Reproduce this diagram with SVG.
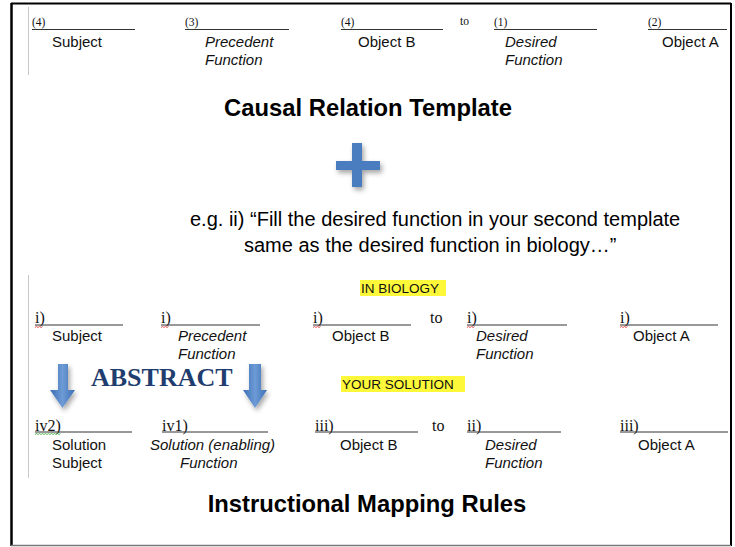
<svg xmlns="http://www.w3.org/2000/svg" width="735" height="547" viewBox="0 0 735 547">
<defs>
<style>
.s{font-family:"Liberation Sans",Arial,sans-serif;font-size:15px;fill:#111}
.i{font-style:italic}
.n{font-family:"Liberation Serif","Times New Roman",serif;fill:#111}
.n1{font-size:11.5px}
.n2{font-size:16px}
.u{stroke:#333;stroke-width:1}
.m{stroke:#c8c8c8;stroke-width:1}
.t{font-family:"Liberation Sans",Arial,sans-serif;font-weight:bold;font-size:23.8px;fill:#000;text-anchor:middle}
.e{font-family:"Liberation Sans",Arial,sans-serif;font-size:20px;fill:#000}
.h{fill:#fdf93a}
.hl{font-family:"Liberation Sans",Arial,sans-serif;font-size:13.5px;fill:#111}
.arr{fill:url(#ag);filter:url(#sh)}
.sq{fill:none;stroke-width:0.8}
</style>
<linearGradient id="ag" x1="0" y1="0" x2="1" y2="0">
<stop offset="0" stop-color="#3d6fb4"/>
<stop offset="0.5" stop-color="#6d9bd6"/>
<stop offset="1" stop-color="#3d6fb4"/>
</linearGradient>
<filter id="sh" x="-50%" y="-50%" width="200%" height="200%">
<feDropShadow dx="2" dy="3" stdDeviation="2.5" flood-color="#000" flood-opacity="0.35"/>
</filter>
</defs>
<rect width="735" height="547" fill="#fff"/>
<g id="frame">
<line x1="11" y1="3.5" x2="731" y2="3.5" stroke="#000" stroke-width="2"/>
<line x1="11.5" y1="3" x2="11.5" y2="546" stroke="#000" stroke-width="2.5"/>
<line x1="731" y1="3" x2="731" y2="546" stroke="#000" stroke-width="2"/>
<line x1="11" y1="545.5" x2="731" y2="545.5" stroke="#777" stroke-width="1.5"/>
<line class="m" x1="28.5" y1="7" x2="28.5" y2="75"/>
<line class="m" x1="28.5" y1="275" x2="28.5" y2="478"/>
</g>
<g id="template-row">
<g id="t-subject"><text class="n n1" x="32" y="26">(4)</text><line class="u" x1="32" y1="29.5" x2="135" y2="29.5"/><text class="s" x="52" y="47">Subject</text></g>
<g id="t-precedent"><text class="n n1" x="185" y="26">(3)</text><line class="u" x1="185" y1="29.5" x2="289" y2="29.5"/><text class="s i" x="205" y="47">Precedent</text><text class="s i" x="205" y="65">Function</text></g>
<g id="t-objectb"><text class="n n1" x="341" y="26">(4)</text><line class="u" x1="341" y1="29.5" x2="443" y2="29.5"/><text class="s" x="358" y="47">Object B</text></g>
<text class="n n1" x="460" y="25">to</text>
<g id="t-desired"><text class="n n1" x="494" y="26">(1)</text><line class="u" x1="494" y1="29.5" x2="597" y2="29.5"/><text class="s i" x="505" y="47">Desired</text><text class="s i" x="505" y="65">Function</text></g>
<g id="t-objecta"><text class="n n1" x="648" y="26">(2)</text><line class="u" x1="648" y1="29.5" x2="727" y2="29.5"/><text class="s" x="662" y="47">Object A</text></g>
</g>
<text id="title1" class="t" x="368" y="116">Causal Relation Template</text>
<g id="plus" filter="url(#sh)" fill="#4a7dbf">
<rect x="352" y="143" width="10" height="44"/>
<rect x="336" y="161" width="44" height="9"/>
</g>
<g id="example">
<text class="e" x="190" y="226">e.g. ii) “Fill the desired function in your second template</text>
<text class="e" x="244" y="252">same as the desired function in biology…”</text>
</g>
<g id="in-biology"><rect class="h" x="360" y="280" width="86" height="16"/><text class="hl" x="361" y="293">IN BIOLOGY</text></g>
<g id="biology-row">
<g id="b-subject"><text class="n n2" x="35" y="323">i)</text><line class="u" x1="35" y1="325" x2="123" y2="325"/><path class="sq" stroke="#d33" d="M35,327.5 l1.5,-1 l1.5,1 l1.5,-1 l1.5,1 l1.5,-1"/><text class="s" x="52" y="341">Subject</text></g>
<g id="b-precedent"><text class="n n2" x="161" y="323">i)</text><line class="u" x1="161" y1="325" x2="260" y2="325"/><path class="sq" stroke="#d33" d="M161,327.5 l1.5,-1 l1.5,1 l1.5,-1 l1.5,1 l1.5,-1"/><text class="s i" x="178" y="341">Precedent</text><text class="s i" x="178" y="359">Function</text></g>
<g id="b-objectb"><text class="n n2" x="313" y="323">i)</text><line class="u" x1="313" y1="325" x2="411" y2="325"/><path class="sq" stroke="#d33" d="M313,327.5 l1.5,-1 l1.5,1 l1.5,-1 l1.5,1 l1.5,-1"/><text class="s" x="332" y="341">Object B</text></g>
<text class="n n2" x="430" y="323">to</text>
<g id="b-desired"><text class="n n2" x="467" y="323">i)</text><line class="u" x1="467" y1="325" x2="567" y2="325"/><path class="sq" stroke="#d33" d="M467,327.5 l1.5,-1 l1.5,1 l1.5,-1 l1.5,1 l1.5,-1"/><text class="s i" x="476" y="341">Desired</text><text class="s i" x="476" y="359">Function</text></g>
<g id="b-objecta"><text class="n n2" x="620" y="323">i)</text><line class="u" x1="620" y1="325" x2="718" y2="325"/><path class="sq" stroke="#d33" d="M620,327.5 l1.5,-1 l1.5,1 l1.5,-1 l1.5,1 l1.5,-1"/><text class="s" x="633" y="341">Object A</text></g>
</g>
<g id="connectors">
<path class="arr" d="M58,364 H68 V390 H75 L62.5,408 L50,390 H58 Z"/>
<path class="arr" d="M249,364 H261 V390 H267 L255,408 L243,390 H249 Z"/>
</g>
<text id="abstract" x="91" y="386" font-family="'Liberation Serif','Times New Roman',serif" font-weight="bold" font-size="26" fill="#1f3d6e">ABSTRACT</text>
<g id="your-solution"><rect class="h" x="341" y="376" width="124" height="16"/><text class="hl" x="342" y="389">YOUR SOLUTION</text></g>
<g id="solution-row">
<g id="s-subject"><text class="n n2" x="35" y="431">iv2)</text><line class="u" x1="35" y1="432" x2="132" y2="432"/><path class="sq" stroke="#3a3" d="M35,434.5 l1.5,-1 l1.5,1 l1.5,-1 l1.5,1 l1.5,-1 l1.5,1 l1.5,-1 l1.5,1 l1.5,-1 l1.5,1 l1.5,-1 l1.5,1 l1.5,-1 l1.5,1 l1.5,-1 l1.5,1 l1.5,-1"/><text class="s" x="52" y="450">Solution</text><text class="s" x="52" y="468">Subject</text></g>
<g id="s-function"><text class="n n2" x="162" y="431">iv1)</text><line class="u" x1="162" y1="432" x2="268" y2="432"/><text class="s i" x="150" y="450">Solution (enabling)</text><text class="s i" x="180" y="468">Function</text></g>
<g id="s-objectb"><text class="n n2" x="315" y="431">iii)</text><line class="u" x1="315" y1="432" x2="418" y2="432"/><text class="s" x="340" y="450">Object B</text></g>
<text class="n n2" x="432" y="431">to</text>
<g id="s-desired"><text class="n n2" x="467" y="431">ii)</text><line class="u" x1="467" y1="432" x2="561" y2="432"/><text class="s i" x="485" y="450">Desired</text><text class="s i" x="485" y="468">Function</text></g>
<g id="s-objecta"><text class="n n2" x="620" y="431">iii)</text><line class="u" x1="620" y1="432" x2="728" y2="432"/><text class="s" x="638" y="450">Object A</text></g>
</g>
<text id="title2" class="t" x="367" y="512">Instructional Mapping Rules</text>
</svg>
